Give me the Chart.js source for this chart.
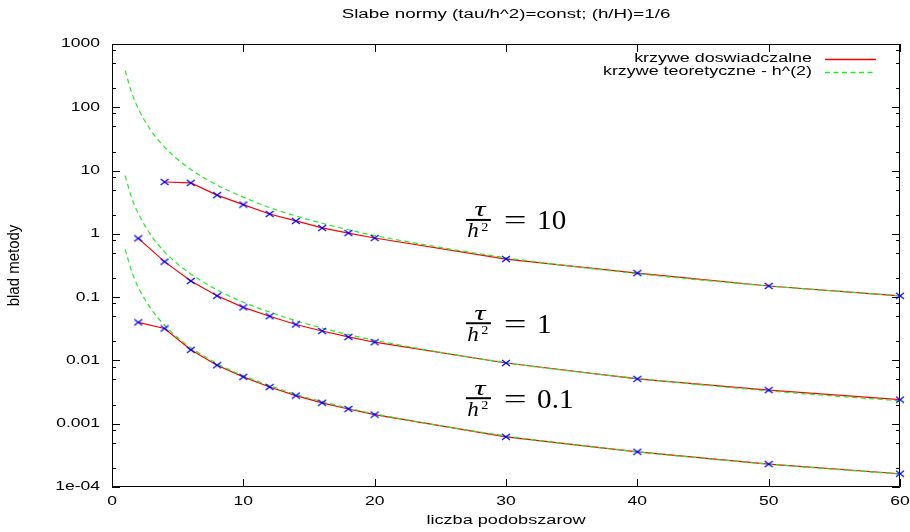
<!DOCTYPE html>
<html>
<head>
<meta charset="utf-8">
<script src="https://cdn.jsdelivr.net/npm/chart.js@4.4.1/dist/chart.umd.min.js"></script>
<style>
  html, body { margin: 0; background: #fff; }
</style>
</head>
<body>
<canvas id="chart" width="910" height="532"></canvas>
<script>
// liczba podobszarow (os x) dla punktow pomiarowych
const nSub10 = [4, 6, 8, 10, 12, 14, 16, 18, 20, 30, 40, 50, 60];
const nSub = [2, 4, 6, 8, 10, 12, 14, 16, 18, 20, 30, 40, 50, 60];

// krzywe doswiadczalne (blad metody)
const errTau10 = [6.6, 6.4, 4.1, 2.9, 2.06, 1.6, 1.24, 1.03, 0.86, 0.40, 0.24, 0.15, 0.105];
const errTau1 = [0.85, 0.364, 0.18, 0.105, 0.069, 0.050, 0.037, 0.0292, 0.0235, 0.0194, 0.0091, 0.0051, 0.0034, 0.0024];
const errTau01 = [0.040, 0.032, 0.0147, 0.0084, 0.0055, 0.0038, 0.00278, 0.00214, 0.00171, 0.00139, 0.00062, 0.00036, 0.00023, 0.000162];

// krzywe teoretyczne - h^(2)
const nTheory = [1, 1.5, 2, 3, 4, 5, 6, 8, 10, 12, 14, 16, 18, 20, 30, 40, 50, 60];
const theoryTau10 = [380, 170, 95, 42, 23.5, 15, 10.4, 5.9, 3.8, 2.6, 1.92, 1.47, 1.16, 0.94, 0.42, 0.235, 0.15, 0.105];
const theoryTau1 = [8.3, 3.7, 2.1, 0.93, 0.52, 0.335, 0.232, 0.13, 0.083, 0.058, 0.0425, 0.0325, 0.0256, 0.0208, 0.0092, 0.0052, 0.0033, 0.0023];
const theoryTau01 = [0.57, 0.255, 0.143, 0.064, 0.036, 0.023, 0.0159, 0.0089, 0.0057, 0.004, 0.0029, 0.00223, 0.00176, 0.00143, 0.00064, 0.00036, 0.00023, 0.00016];

// osie
const xTicks = [0, 10, 20, 30, 40, 50, 60];
const yTicks = [1e-4, 1e-3, 0.01, 0.1, 1, 10, 100, 1000];
const yTickLabels = ['1e-04', '0.001', '0.01', '0.1', '1', '10', '100', '1000'];
const yMinorSteps = [2, 5, 8];

const titleText = 'Slabe normy (tau/h^2)=const; (h/H)=1/6';
const xTitle = 'liczba podobszarow';
const yTitle = 'blad metody';
const legendLabels = ['krzywe doswiadczalne', 'krzywe teoretyczne - h^(2)'];

// opisy krzywych: tau/h^2 = ...
const tauLabels = ['10', '1', '0.1'];
const tauAnchors = [{ x: 27.9, y: 1.66 }, { x: 27.9, y: 0.0387 }, { x: 27.9, y: 0.00253 }];

const RED = '#ff0000';
const GREEN = '#22ee22';
const BLUE = '#0000ff';
const SANS = '"Liberation Sans", Arial, sans-serif';
const SERIF = '"Liberation Serif", "Times New Roman", serif';
const STRETCH = 1.43;

const pts = (xs, ys) => xs.map((x, i) => ({ x, y: ys[i] }));

// znacznik "x" troche szerszy niz wyzszy (jak w gnuplocie)
const cross = document.createElement('canvas');
cross.width = 10;
cross.height = 8;
{
    const c = cross.getContext('2d');
    c.strokeStyle = BLUE;
    c.lineWidth = 1.2;
    c.beginPath();
    c.moveTo(1, 1); c.lineTo(9, 7);
    c.moveTo(1, 7); c.lineTo(9, 1);
    c.stroke();
}

const expSeries = [pts(nSub10, errTau10), pts(nSub, errTau1), pts(nSub, errTau01)];
const theorySeries = [pts(nTheory, theoryTau10), pts(nTheory, theoryTau1), pts(nTheory, theoryTau01)];

const datasets = [];
expSeries.forEach(d => datasets.push({
    data: d, borderColor: RED, borderWidth: 1.2, pointRadius: 0, fill: false, order: 3, clip: false,
}));
theorySeries.forEach(d => datasets.push({
    data: d, borderColor: GREEN, borderWidth: 1.2, borderDash: [5, 3.5], pointRadius: 0,
    cubicInterpolationMode: 'monotone', fill: false, order: 2, clip: false,
}));
expSeries.forEach(d => datasets.push({
    data: d, showLine: false, pointStyle: cross, pointRadius: 5, order: 1, clip: false,
}));

function text(ctx, s, x, y, align, sx) {
    ctx.save();
    ctx.translate(x, y);
    ctx.scale(sx, 1);
    ctx.textAlign = align;
    ctx.fillText(s, 0, 0);
    ctx.restore();
}

const gnuplotFrame = {
    id: 'gnuplotFrame',
    beforeDatasetsDraw(chart) {
        const { ctx, chartArea: a, scales: { x, y } } = chart;
        ctx.save();
        ctx.strokeStyle = '#000';
        ctx.lineWidth = 1;
        ctx.beginPath();
        ctx.rect(a.left + 0.5, a.top + 0.5, a.right - a.left - 1, a.bottom - a.top - 1);
        xTicks.forEach(v => {
            const px = Math.round(x.getPixelForValue(v)) + 0.5;
            ctx.moveTo(px, a.bottom); ctx.lineTo(px, a.bottom - 8);
            ctx.moveTo(px, a.top); ctx.lineTo(px, a.top + 8);
        });
        yTicks.forEach((v, i) => {
            const py = Math.round(y.getPixelForValue(v)) + 0.5;
            ctx.moveTo(a.left, py); ctx.lineTo(a.left + 8, py);
            ctx.moveTo(a.right, py); ctx.lineTo(a.right - 8, py);
            if (i === yTicks.length - 1) return;
            yMinorSteps.forEach(m => {
                const pm = Math.round(y.getPixelForValue(v * m)) + 0.5;
                ctx.moveTo(a.left, pm); ctx.lineTo(a.left + 4, pm);
                ctx.moveTo(a.right, pm); ctx.lineTo(a.right - 4, pm);
            });
        });
        ctx.stroke();
        ctx.restore();
    },
    afterDraw(chart) {
        const { ctx, chartArea: a, scales: { x, y } } = chart;
        ctx.save();
        ctx.fillStyle = '#000';
        ctx.font = '12.5px ' + SANS;
        ctx.textBaseline = 'middle';

        yTicks.forEach((v, i) => text(ctx, yTickLabels[i], a.left - 12, y.getPixelForValue(v), 'right', 1.4));
        xTicks.forEach(v => text(ctx, String(v), x.getPixelForValue(v), a.bottom + 15, 'center', 1.4));

        const cx = (a.left + a.right) / 2;
        text(ctx, titleText, cx, 15, 'center', 1.5);
        text(ctx, xTitle, cx, a.bottom + 34, 'center', 1.45);

        ctx.save();
        ctx.translate(15, (a.top + a.bottom) / 2);
        ctx.rotate(-Math.PI / 2);
        ctx.scale(1.2, 1.25);
        ctx.textAlign = 'center';
        ctx.fillText(yTitle, 0, 0);
        ctx.restore();

        // legenda
        const colors = [RED, GREEN];
        const dashes = [[], [5, 3.5]];
        legendLabels.forEach((s, i) => {
            const ly = a.top + 15 + i * 13;
            ctx.fillStyle = '#000';
            text(ctx, s, a.right - 88, ly, 'right', STRETCH);
            ctx.save();
            ctx.beginPath();
            ctx.strokeStyle = colors[i];
            ctx.lineWidth = 1.3;
            ctx.setLineDash(dashes[i]);
            ctx.moveTo(a.right - 75, Math.round(ly) + 0.5);
            ctx.lineTo(a.right - 24, Math.round(ly) + 0.5);
            ctx.stroke();
            ctx.restore();
        });

        // tau / h^2 = ...
        ctx.fillStyle = '#000';
        ctx.textBaseline = 'alphabetic';
        tauAnchors.forEach((p, i) => {
            const fx = x.getPixelForValue(p.x);
            const by = y.getPixelForValue(p.y);
            ctx.font = 'italic 21px ' + SERIF;
            text(ctx, 'τ', fx + 1.5, by - 3.5, 'center', 1.5);
            ctx.fillRect(fx - 12.5, by - 1, 25, 2);
            ctx.font = 'italic 21px ' + SERIF;
            text(ctx, 'h', fx - 5.5, by + 17.5, 'center', 1.1);
            ctx.font = '13px ' + SERIF;
            text(ctx, '2', fx + 6.5, by + 11, 'center', 1.1);
            ctx.font = '27px ' + SERIF;
            text(ctx, '=', fx + 36.7, by + 9.5, 'center', 1.5);
            text(ctx, tauLabels[i], fx + 58.7, by + 9.5, 'left', 1.08);
        });
        ctx.restore();
    },
};

new Chart(document.getElementById('chart'), {
    type: 'line',
    data: { datasets },
    options: {
        responsive: false,
        animation: false,
        layout: { padding: { left: 0, right: 10, top: 44, bottom: 0 } },
        plugins: { legend: { display: false }, tooltip: { enabled: false }, title: { display: false } },
        scales: {
            x: {
                type: 'linear', min: 0, max: 60,
                grid: { display: false }, border: { display: false },
                ticks: { display: false, stepSize: 10 },
                afterFit: s => { s.height = 45; },
            },
            y: {
                type: 'logarithmic', min: 1e-4, max: 1000,
                grid: { display: false }, border: { display: false },
                ticks: { display: false },
                afterBuildTicks: s => { s.ticks = yTicks.map(v => ({ value: v })); },
                afterFit: s => { s.width = 112; },
            },
        },
    },
    plugins: [gnuplotFrame],
});
</script>
</body>
</html>
